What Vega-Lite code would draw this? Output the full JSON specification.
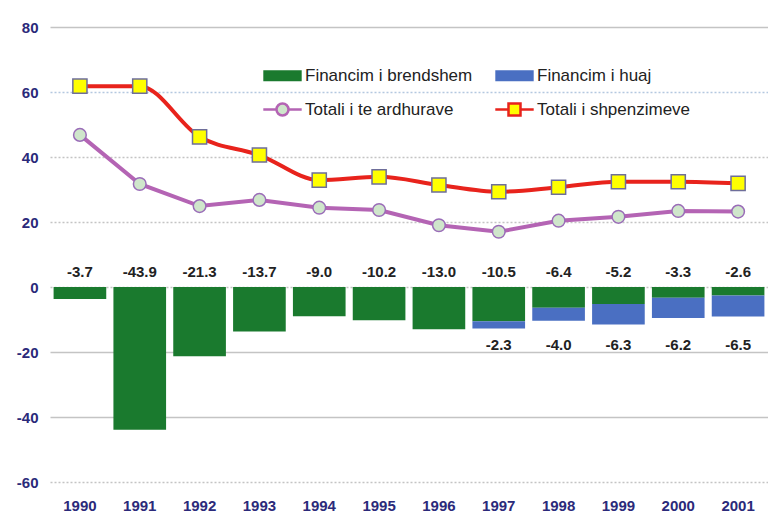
{
  "$schema": "https://vega.github.io/schema/vega-lite/v6.json",
  "width": 718,
  "height": 455,
  "autosize": {"type": "none"},
  "padding": {"left": 50, "top": 27, "right": 0, "bottom": 42},
  "background": "white",
  "config": {
    "view": {"stroke": null},
    "font": "Liberation Sans",
    "locale": {"number": {"decimal": ".", "thousands": ",", "grouping": [3], "currency": ["$", ""], "minus": "-"}}
  },
  "datasets": {
    "bars": [
      {"year": "1990", "series": "Financim i brendshem", "value": -3.7},
      {"year": "1991", "series": "Financim i brendshem", "value": -43.9},
      {"year": "1992", "series": "Financim i brendshem", "value": -21.3},
      {"year": "1993", "series": "Financim i brendshem", "value": -13.7},
      {"year": "1994", "series": "Financim i brendshem", "value": -9.0},
      {"year": "1995", "series": "Financim i brendshem", "value": -10.2},
      {"year": "1996", "series": "Financim i brendshem", "value": -13.0},
      {"year": "1997", "series": "Financim i brendshem", "value": -10.5},
      {"year": "1998", "series": "Financim i brendshem", "value": -6.4},
      {"year": "1999", "series": "Financim i brendshem", "value": -5.2},
      {"year": "2000", "series": "Financim i brendshem", "value": -3.3},
      {"year": "2001", "series": "Financim i brendshem", "value": -2.6},
      {"year": "1997", "series": "Financim i huaj", "value": -2.3},
      {"year": "1998", "series": "Financim i huaj", "value": -4.0},
      {"year": "1999", "series": "Financim i huaj", "value": -6.3},
      {"year": "2000", "series": "Financim i huaj", "value": -6.2},
      {"year": "2001", "series": "Financim i huaj", "value": -6.5}
    ],
    "lines": [
      {"year": "1990", "series": "Totali i te ardhurave", "value": 46.8},
      {"year": "1991", "series": "Totali i te ardhurave", "value": 31.7},
      {"year": "1992", "series": "Totali i te ardhurave", "value": 24.9},
      {"year": "1993", "series": "Totali i te ardhurave", "value": 26.8},
      {"year": "1994", "series": "Totali i te ardhurave", "value": 24.4},
      {"year": "1995", "series": "Totali i te ardhurave", "value": 23.7},
      {"year": "1996", "series": "Totali i te ardhurave", "value": 19.0},
      {"year": "1997", "series": "Totali i te ardhurave", "value": 17.0},
      {"year": "1998", "series": "Totali i te ardhurave", "value": 20.4},
      {"year": "1999", "series": "Totali i te ardhurave", "value": 21.6},
      {"year": "2000", "series": "Totali i te ardhurave", "value": 23.4},
      {"year": "2001", "series": "Totali i te ardhurave", "value": 23.2},
      {"year": "1990", "series": "Totali i shpenzimeve", "value": 61.8},
      {"year": "1991", "series": "Totali i shpenzimeve", "value": 61.8},
      {"year": "1992", "series": "Totali i shpenzimeve", "value": 46.2},
      {"year": "1993", "series": "Totali i shpenzimeve", "value": 40.6},
      {"year": "1994", "series": "Totali i shpenzimeve", "value": 32.9},
      {"year": "1995", "series": "Totali i shpenzimeve", "value": 33.9},
      {"year": "1996", "series": "Totali i shpenzimeve", "value": 31.4},
      {"year": "1997", "series": "Totali i shpenzimeve", "value": 29.3},
      {"year": "1998", "series": "Totali i shpenzimeve", "value": 30.7},
      {"year": "1999", "series": "Totali i shpenzimeve", "value": 32.4},
      {"year": "2000", "series": "Totali i shpenzimeve", "value": 32.4},
      {"year": "2001", "series": "Totali i shpenzimeve", "value": 31.9}
    ]
  },
  "layer": [
    {
      "data": {"name": "bars"},
      "mark": {"type": "bar"},
      "encoding": {
        "x": {
          "field": "year", "type": "ordinal",
          "scale": {"paddingInner": 0.12, "paddingOuter": 0.06},
          "axis": {"title": null, "labelAngle": 0, "ticks": false, "domain": false, "labelPadding": 16,
                   "labelFont": "Liberation Sans", "labelFontSize": 15, "labelFontWeight": "bold", "labelColor": "#2b2a7a"}
        },
        "y": {
          "field": "value", "type": "quantitative", "stack": "zero",
          "scale": {"domain": [-60, 80], "nice": false},
          "axis": {"title": null, "values": [-60, -40, -20, 0, 20, 40, 60, 80], "ticks": false, "domain": false,
                   "labelPadding": 12, "labelFont": "Liberation Sans", "labelFontSize": 15, "labelFontWeight": "bold",
                   "labelColor": "#2b2a7a",
                   "gridColor": {"condition": {"test": "datum.value == 60", "value": "#b4c8e0"}, "value": "#c4c4c4"},
                   "gridDash": {"condition": {"test": "datum.value == 80 || datum.value == -20 || datum.value == -40", "value": []}, "value": [2, 2]},
                   "gridWidth": 1.5}
        },
        "color": {
          "field": "series", "type": "nominal",
          "scale": {"domain": ["Financim i brendshem", "Totali i te ardhurave", "Financim i huaj", "Totali i shpenzimeve"],
                    "range": ["#1a7a2e", "#cfe6cb", "#4a6fc2", "#ffff00"]},
          "legend": {
            "orient": "none", "legendX": 224, "legendY": 40, "columns": 2, "columnPadding": 17, "rowPadding": 14,
            "title": null, "labelFont": "Liberation Sans", "labelFontSize": 17, "labelColor": "#222222",
            "labelOffset": 14, "labelLimit": 400, "symbolSize": 144, "symbolStrokeWidth": 2,
            "encode": {
              "symbols": {
                "update": {
                  "shape": {"signal": "datum.value === 'Financim i brendshem' || datum.value === 'Financim i huaj' ? 'M-3.2,-0.9H3.2V0.9H-3.2Z' : datum.value === 'Totali i te ardhurave' ? 'M-3.2,0H-1M1,0H3.2M-1,0A1,1 0 1,0 1,0A1,1 0 1,0 -1,0Z' : 'M-3.2,0H-1M1,0H3.2M-1,-1H1V1H-1Z'"},
                  "stroke": {"signal": "datum.value === 'Totali i te ardhurave' ? '#b464b4' : datum.value === 'Totali i shpenzimeve' ? '#e8231c' : 'transparent'"},
                  "strokeWidth": {"signal": "datum.value === 'Totali i te ardhurave' || datum.value === 'Totali i shpenzimeve' ? 2.5 : 0"},
                  "opacity": {"value": 1},
                  "fillOpacity": {"value": 1}
                }
              }
            }
          }
        },
        "order": {"field": "series", "sort": "ascending"}
      }
    },
    {
      "mark": {"type": "rule", "color": "#808080", "strokeWidth": 2.5},
      "encoding": {"y": {"datum": 0}}
    },
    {
      "data": {"name": "lines"},
      "transform": [{"filter": "datum.series === 'Totali i te ardhurave'"}],
      "mark": {"type": "line", "color": "#b464b4", "strokeWidth": 4},
      "encoding": {
        "x": {"field": "year", "type": "ordinal"},
        "y": {"field": "value", "type": "quantitative"}
      }
    },
    {
      "data": {"name": "lines"},
      "transform": [{"filter": "datum.series === 'Totali i shpenzimeve'"}],
      "mark": {"type": "line", "color": "#e8231c", "strokeWidth": 4, "interpolate": "monotone"},
      "encoding": {
        "x": {"field": "year", "type": "ordinal"},
        "y": {"field": "value", "type": "quantitative"}
      }
    },
    {
      "data": {"name": "lines"},
      "transform": [{"filter": "datum.series === 'Totali i te ardhurave'"}],
      "mark": {"type": "point", "shape": "circle", "filled": true, "fill": "#cfe6cb", "stroke": "#9a6cb8", "strokeWidth": 1.5, "size": 160, "opacity": 1},
      "encoding": {
        "x": {"field": "year", "type": "ordinal"},
        "y": {"field": "value", "type": "quantitative"}
      }
    },
    {
      "data": {"name": "lines"},
      "transform": [{"filter": "datum.series === 'Totali i shpenzimeve'"}],
      "mark": {"type": "point", "shape": "square", "filled": true, "fill": "#ffff00", "stroke": "#6e6e9a", "strokeWidth": 1.5, "size": 200, "opacity": 1},
      "encoding": {
        "x": {"field": "year", "type": "ordinal"},
        "y": {"field": "value", "type": "quantitative"}
      }
    },
    {
      "data": {"name": "bars"},
      "transform": [{"filter": "datum.series === 'Financim i brendshem'"}],
      "mark": {"type": "text", "font": "Liberation Sans", "fontSize": 15, "fontWeight": "bold", "color": "#222222", "baseline": "middle"},
      "encoding": {
        "x": {"field": "year", "type": "ordinal"},
        "y": {"datum": 4.7},
        "text": {"field": "value", "type": "quantitative", "format": ".1f"}
      }
    },
    {
      "data": {"name": "bars"},
      "transform": [{"filter": "datum.series === 'Financim i huaj'"}],
      "mark": {"type": "text", "font": "Liberation Sans", "fontSize": 15, "fontWeight": "bold", "color": "#222222", "baseline": "middle"},
      "encoding": {
        "x": {"field": "year", "type": "ordinal"},
        "y": {"datum": -17.8},
        "text": {"field": "value", "type": "quantitative", "format": ".1f"}
      }
    }
  ]
}
